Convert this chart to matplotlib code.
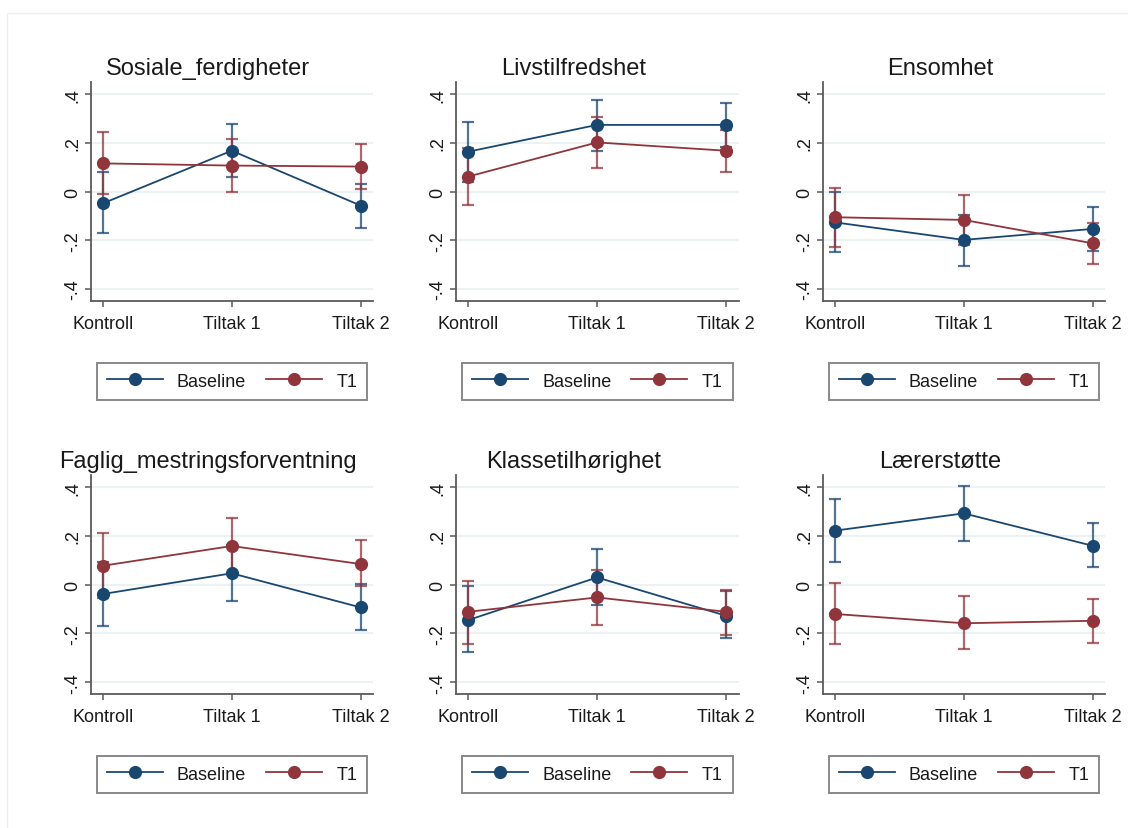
import matplotlib
matplotlib.use("Agg")
import matplotlib.pyplot as plt
from matplotlib.patches import Rectangle
import numpy as np

plt.rcParams['font.family'] = ['Liberation Sans', 'DejaVu Sans']

categories = ['Kontroll', 'Tiltak 1', 'Tiltak 2']
panel_titles = ['Sosiale_ferdigheter', 'Livstilfredshet', 'Ensomhet',
                'Faglig_mestringsforventning', 'Klassetilhørighet', 'Lærerstøtte']
series_names = ['Baseline', 'T1']

base_mean = [[-0.048, 0.168, -0.057],
             [0.164, 0.274, 0.274],
             [-0.126, -0.198, -0.153],
             [-0.038, 0.047, -0.093],
             [-0.145, 0.030, -0.127],
             [0.222, 0.293, 0.160]]
base_lo = [[-0.170, 0.062, -0.149],
           [0.041, 0.168, 0.184],
           [-0.249, -0.304, -0.242],
           [-0.171, -0.068, -0.185],
           [-0.278, -0.082, -0.220],
           [0.092, 0.181, 0.071]]
base_hi = [[0.082, 0.278, 0.031],
           [0.287, 0.377, 0.364],
           [0.000, -0.094, -0.064],
           [0.095, 0.162, 0.005],
           [-0.007, 0.146, -0.027],
           [0.352, 0.404, 0.253]]
t1_mean = [[0.116, 0.107, 0.103],
           [0.062, 0.202, 0.168],
           [-0.105, -0.116, -0.212],
           [0.078, 0.159, 0.085],
           [-0.111, -0.052, -0.111],
           [-0.120, -0.158, -0.148]]
t1_lo = [[-0.010, -0.003, 0.011],
         [-0.055, 0.097, 0.082],
         [-0.228, -0.220, -0.297],
         [-0.055, 0.043, -0.004],
         [-0.244, -0.164, -0.205],
         [-0.244, -0.264, -0.240]]
t1_hi = [[0.243, 0.216, 0.196],
         [0.179, 0.305, 0.254],
         [0.014, -0.012, -0.129],
         [0.211, 0.275, 0.184],
         [0.016, 0.060, -0.021],
         [0.007, -0.045, -0.059]]

yticks = [-0.4, -0.2, 0, 0.2, 0.4]
ytick_labels = ['-.4', '-.2', '0', '.2', '.4']

NAVY = '#1a476f'
MAROON = '#90353b'
GRID = '#eaf2f3'
SPINE = '#5a5a5a'
TXT = '#1a1a1a'

W, H = 1128, 829
fig = plt.figure(figsize=(W / 100, H / 100), dpi=100)
fig.patch.set_facecolor('white')

# faint outer frame
fig.patches.append(Rectangle((7 / W, -0.01), 1.02, 1 - 14 / H + 0.01, transform=fig.transFigure,
                             fill=False, edgecolor='#efefef', linewidth=1.0))

col_left = [90.7, 456.0, 822.7]
ax_w = 282.5
row_top = [83.0, 476.1]
ax_h = 219.3

for i in range(6):
    r, c = divmod(i, 3)
    left = col_left[c] / W
    bottom = 1 - (row_top[r] + ax_h) / H
    ax = fig.add_axes([left, bottom, ax_w / W, ax_h / H])
    x = np.arange(1, len(categories) + 1)

    series = [(base_mean[i], base_lo[i], base_hi[i], NAVY, series_names[0]),
              (t1_mean[i], t1_lo[i], t1_hi[i], MAROON, series_names[1])]
    for m, lo, hi, col, name in series:
        m = np.array(m); lo = np.array(lo); hi = np.array(hi)
        ax.errorbar(x, m, yerr=[m - lo, hi - m], fmt='none', ecolor=col, alpha=0.75,
                    elinewidth=1.6, capsize=4.3, capthick=1.6, zorder=2)
        ax.plot(x, m, '-o', color=col, linewidth=1.3, markersize=9.5,
                markeredgewidth=0, label=name, zorder=3)

    ax.set_xlim(0.905, 3.098)
    ax.set_ylim(-0.45, 0.45)
    ax.set_xticks(x)
    ax.set_xticklabels(categories, fontsize=13, color=TXT)
    ax.set_yticks(yticks)
    ax.set_yticklabels(ytick_labels, fontsize=13, color=TXT, rotation=90, va='center')
    ax.grid(axis='y', color=GRID, linewidth=1.5, zorder=0)
    ax.set_axisbelow(True)
    for s in ['top', 'right']:
        ax.spines[s].set_visible(False)
    for s in ['left', 'bottom']:
        ax.spines[s].set_color(SPINE)
        ax.spines[s].set_linewidth(1.3)
    ax.tick_params(axis='both', color=SPINE, length=4, width=1.1, direction='out')
    ax.tick_params(axis='x', pad=6)
    ax.tick_params(axis='y', pad=3)

    ax.set_title(panel_titles[i], fontsize=17, color=TXT, x=0.416, pad=6)

    leg = ax.legend(loc='center', bbox_to_anchor=(0.5, -0.364), ncol=2, fontsize=13,
                    frameon=True, fancybox=False, handlelength=3.1, handletextpad=0.8,
                    columnspacing=1.1, borderpad=0.55, borderaxespad=0, numpoints=1)
    leg.get_frame().set_edgecolor('#6a6a6a')
    leg.get_frame().set_linewidth(1.4)
    for t in leg.get_texts():
        t.set_color(TXT)

fig.savefig('out.png', dpi=100, facecolor='white')
